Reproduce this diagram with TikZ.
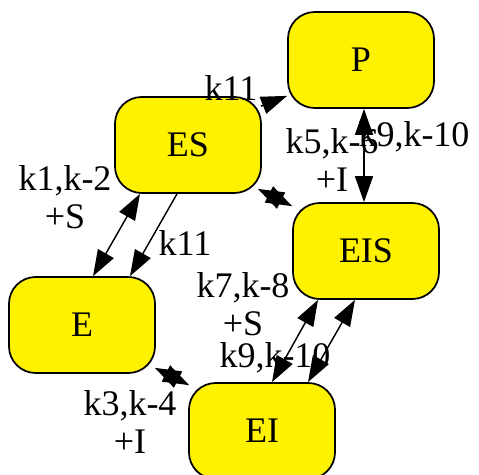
\documentclass[tikz,border=0pt]{standalone}
\usepackage{fontspec}
\setmainfont{Liberation Serif}
\usetikzlibrary{arrows.meta,calc}
\begin{document}
\begin{tikzpicture}[x=0.75pt,y=-0.75pt,
 state/.style={draw=black, line width=1.3pt, fill=yellow, rounded corners=20pt,
   minimum width=109.5pt, minimum height=72pt, inner sep=0pt,
   font=\fontsize{27}{30}\selectfont},
 lbl/.style={font=\fontsize{27}{28.5}\selectfont, align=center, inner sep=0pt},
 conn/.style={line width=1.1pt, -{Triangle[length=19.5pt,width=13.5pt]}},
 biconn/.style={line width=1.1pt, {Triangle[length=19.5pt,width=13.5pt]}-{Triangle[length=19.5pt,width=13.5pt]}}]
\useasboundingbox[fill=white] (0,0) rectangle (479,475);
\node[state] (P) at (361,60) {P};
\node[state] (ES) at (188,145) {ES};
\node[state] (EIS) at (366,251) {EIS};
\node[state] (E) at (82,325) {E};
\node[state] (EI) at (262,431) {EI};
% ES -> P
\draw[conn] ($(ES.north east)+(-1,10)$) -- ($(P.south west)+(0,-13)$);
\node[lbl] (l1) at (231,88) {k11};
% P <-> EIS
\draw[biconn] ($(P.south)+(3,0)$) -- ($(EIS.north)+(-2,0)$);
\node[lbl] (l2) at (332,160) {k5,k-6\\+I};
\node[lbl] (l3) at (414,137) {k9,k-10};
% ES <-> E
\draw[biconn] ($(ES.south)+(-48,0)$) -- ($(E.north)+(11,0)$);
\node[lbl] (l4) at (65,197) {k1,k-2\\+S};
% ES -> E
\draw[conn] ($(ES.south)+(-11,0)$) -- ($(E.north)+(48,0)$);
\node[lbl] (l5) at (185,243) {k11};
% ES <-> EIS
\draw[biconn] ($(ES.south east)+(-4,-5)$) -- ($(EIS.north west)+(0,4)$);
% E <-> EI
\draw[biconn] ($(E.south east)+(-1,-6)$) -- ($(EI.north west)+(1,3)$);
\node[lbl] (l6) at (130,422) {k3,k-4\\+I};
% EI <-> EIS
\draw[biconn] ($(EI.north)+(10,0)$) -- ($(EIS.south)+(-48,0)$);
\draw[biconn] ($(EI.north)+(46,0)$) -- ($(EIS.south)+(-11,0)$);
\node[lbl] (l7) at (243,304) {k7,k-8\\+S};
\node[lbl] (l8) at (275,358) {k9,k-10};
\end{tikzpicture}
\end{document}
